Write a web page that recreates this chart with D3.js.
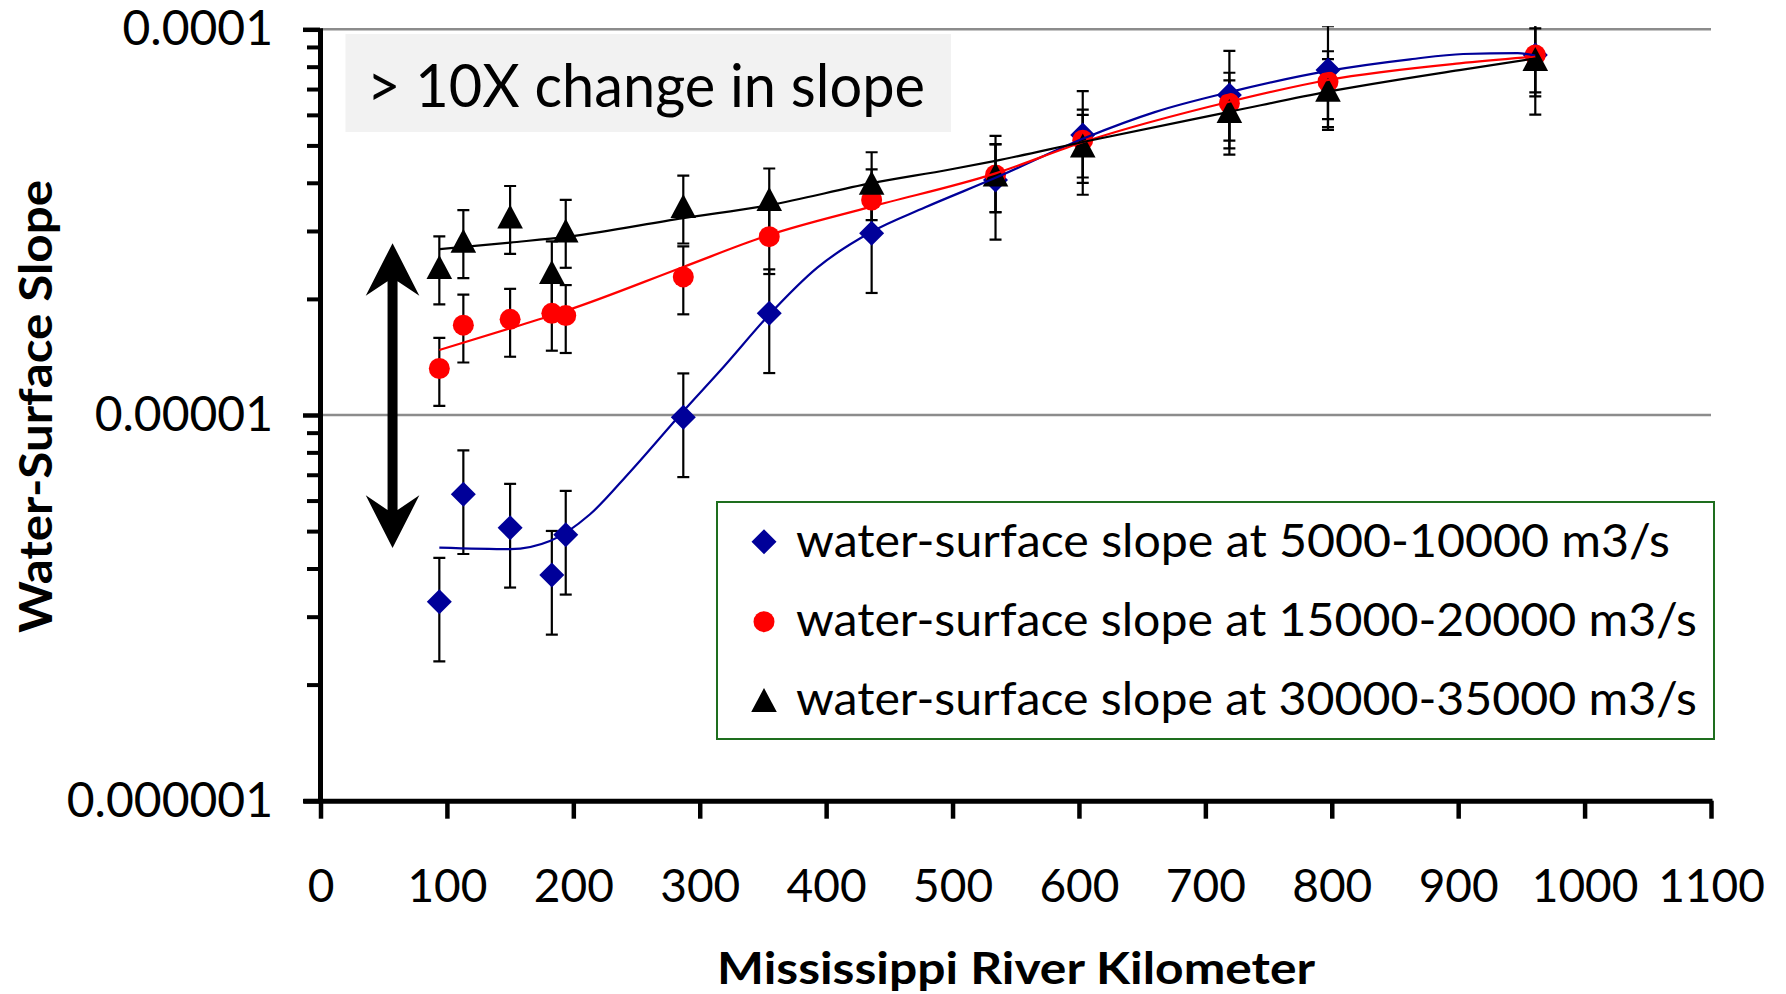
<!DOCTYPE html>
<html>
<head>
<meta charset="utf-8">
<script src="https://cdn.jsdelivr.net/npm/d3@7"></script>
<style>
  body { margin: 0; background: #fff; }
  svg { display: block; }
  text { font-family: Lato, "Open Sans", "DejaVu Sans", sans-serif; fill: #000; }
</style>
</head>
<body>
<svg id="chart" width="1786" height="994"></svg>
<script>
// ---- data ----------------------------------------------------------------
const riverKm = [94, 113, 150, 183, 194, 287, 355, 436, 534, 603, 719, 797, 961];

const slopeLow  = [3.28e-6, 6.23e-6, 5.10e-6, 3.85e-6, 4.89e-6, 9.86e-6, 1.835e-5, 2.96e-5, 4.07e-5, 5.32e-5, 6.76e-5, 7.84e-5, 8.58e-5];
const slopeMid  = [1.32e-5, 1.71e-5, 1.77e-5, 1.835e-5, 1.81e-5, 2.28e-5, 2.90e-5, 3.61e-5, 4.19e-5, 5.16e-5, 6.43e-5, 7.31e-5, 8.58e-5];
const slopeHigh = [2.42e-5, 2.83e-5, 3.27e-5, 2.35e-5, 3.01e-5, 3.48e-5, 3.63e-5, 4.00e-5, 4.20e-5, 5.00e-5, 6.14e-5, 6.97e-5, 8.38e-5];

// relative error-bar size of each series
const errLow = 0.30, errMid = 0.20, errHigh = 0.20;

// fitted trend curves (km, slope)
const trendLowKm  = [94, 150, 182, 213, 245, 287, 319, 355, 393, 436, 478, 534, 604, 660, 719, 797, 862, 904, 947, 961];
const trendLowVal = [4.53e-6, 4.49e-6, 4.72e-6, 5.52e-6, 7.13e-6, 1.023e-5, 1.334e-5, 1.82e-5, 2.41e-5, 2.985e-5, 3.45e-5, 4.12e-5, 5.22e-5, 6.10e-5, 6.87e-5, 7.80e-5, 8.36e-5, 8.63e-5, 8.67e-5, 8.55e-5];
const trendMidKm  = [94, 150, 196, 287, 355, 436, 534, 604, 719, 797, 901, 961];
const trendMidVal = [1.474e-5, 1.678e-5, 1.872e-5, 2.42e-5, 2.93e-5, 3.47e-5, 4.23e-5, 5.11e-5, 6.49e-5, 7.39e-5, 8.16e-5, 8.49e-5];
const trendHighKm  = [94, 150, 196, 287, 355, 436, 498, 534, 604, 719, 797, 901, 961];
const trendHighVal = [2.69e-5, 2.80e-5, 2.90e-5, 3.24e-5, 3.50e-5, 3.99e-5, 4.33e-5, 4.56e-5, 5.11e-5, 6.11e-5, 6.89e-5, 7.84e-5, 8.40e-5];

const xTicks = [0, 100, 200, 300, 400, 500, 600, 700, 800, 900, 1000, 1100];
const yTicks = [1e-6, 1e-5, 1e-4];
const yTickLabels = ["0.000001", "0.00001", "0.0001"];
const yMinorTicks = [2e-6, 3e-6, 4e-6, 5e-6, 6e-6, 7e-6, 8e-6, 9e-6, 2e-5, 3e-5, 4e-5, 5e-5, 6e-5, 7e-5, 8e-5, 9e-5];
const yGrid = [1e-5, 1e-4];

const seriesNames = [
  "water-surface slope at 5000-10000 m3/s",
  "water-surface slope at 15000-20000 m3/s",
  "water-surface slope at 30000-35000 m3/s"
];
const xTitle = "Mississippi River Kilometer";
const yTitle = "Water-Surface Slope";
const noteText = "> 10X change in slope";

// double arrow annotation (km, slope at tips)
const arrowKm = 57, arrowTop = 2.79e-5, arrowBottom = 4.52e-6;

// ---- layout ----------------------------------------------------------------
const svg = d3.select("#chart");
const plotL = 320.5, plotR = 1711, plotT = 29.3, plotB = 800.7;

const x = d3.scaleLinear().domain([0, 1100]).range([plotL, plotR]);
const y = d3.scaleLog().domain([1e-6, 1e-4]).range([plotB, plotT]);

const BLUE = "#000099", RED = "#ff0000", BLACK = "#000000";

const series = [
  { name: seriesNames[0], vals: slopeLow,  err: errLow,  color: BLUE,  shape: "diamond",  tk: trendLowKm,  tv: trendLowVal },
  { name: seriesNames[1], vals: slopeMid,  err: errMid,  color: RED,   shape: "circle",   tk: trendMidKm,  tv: trendMidVal },
  { name: seriesNames[2], vals: slopeHigh, err: errHigh, color: BLACK, shape: "triangle", tk: trendHighKm, tv: trendHighVal }
];

svg.append("defs").append("clipPath").attr("id", "plotClip")
  .append("rect").attr("x", plotL - 2).attr("y", plotT - 3)
  .attr("width", plotR - plotL + 4).attr("height", plotB - plotT + 6);

// gridlines
svg.append("g").selectAll("line").data(yGrid).join("line")
  .attr("x1", plotL).attr("x2", plotR)
  .attr("y1", d => y(d)).attr("y2", d => y(d))
  .attr("stroke", "#8c8c8c").attr("stroke-width", 2.5);

// annotation box
svg.append("rect")
  .attr("x", plotL + 25).attr("y", plotT + 4.7)
  .attr("width", 605.5).attr("height", 98)
  .attr("fill", "#f2f2f2");
svg.append("text")
  .attr("x", plotL + 46.5).attr("y", 107)
  .attr("font-size", 60)
  .attr("textLength", 558).attr("lengthAdjust", "spacingAndGlyphs")
  .text(noteText);

// double-headed arrow
(function () {
  const cx = x(arrowKm), yt = y(arrowTop), yb = y(arrowBottom);
  const hw = 5, bw = 26.8, hb = 52.7, hn = 38;
  const pts = [
    [cx, yt], [cx + bw, yt + hb], [cx + hw, yt + hn],
    [cx + hw, yb - hn], [cx + bw, yb - hb], [cx, yb],
    [cx - bw, yb - hb], [cx - hw, yb - hn],
    [cx - hw, yt + hn], [cx - bw, yt + hb]
  ];
  svg.append("path").attr("d", "M" + pts.map(p => p.join(",")).join("L") + "Z").attr("fill", "#000");
})();

// axes
const yAxisMajor = d3.axisLeft(y).tickValues(yTicks).tickSize(17).tickSizeOuter(0).tickPadding(30)
  .tickFormat((d, i) => yTickLabels[i]);
const gy = svg.append("g").attr("transform", `translate(${plotL - 0.5},0)`).call(yAxisMajor);
gy.select(".domain").attr("stroke", "#000").attr("stroke-width", 5)
  .attr("d", `M0.5,${plotT - 1}V${plotB + 2.5}`);
gy.selectAll(".tick line").attr("stroke", "#000").attr("stroke-width", 4.5);
gy.selectAll(".tick text").attr("font-size", 48).attr("font-family", "Lato, 'Open Sans', sans-serif").attr("fill", "#000");

const yAxisMinor = d3.axisLeft(y).tickValues(yMinorTicks).tickSize(13).tickSizeOuter(0).tickFormat("");
const gym = svg.append("g").attr("transform", `translate(${plotL - 0.5},0)`).call(yAxisMinor);
gym.select(".domain").remove();
gym.selectAll(".tick line").attr("stroke", "#000").attr("stroke-width", 4);

const xAxis = d3.axisBottom(x).tickValues(xTicks).tickSize(18).tickSizeOuter(0).tickFormat(d3.format("d"));
const gx = svg.append("g").attr("transform", `translate(0,${plotB})`).call(xAxis);
gx.select(".domain").attr("stroke", "#000").attr("stroke-width", 5)
  .attr("d", `M${plotL - 17},0.5H${plotR + 1.5}`);
gx.selectAll(".tick line").attr("stroke", "#000").attr("stroke-width", 4.5);
gx.selectAll(".tick text").attr("font-size", 46).attr("font-family", "Lato, 'Open Sans', sans-serif")
  .attr("fill", "#000").attr("y", 101).attr("dy", 0);

// axis titles
svg.append("text")
  .attr("x", 1016).attr("y", 984).attr("text-anchor", "middle")
  .attr("font-size", 44).attr("font-weight", "bold")
  .attr("textLength", 598).attr("lengthAdjust", "spacingAndGlyphs")
  .text(xTitle);
svg.append("text")
  .attr("transform", "translate(51.5,406.5) rotate(-90)")
  .attr("text-anchor", "middle")
  .attr("font-size", 46).attr("font-weight", "bold")
  .attr("textLength", 453).attr("lengthAdjust", "spacingAndGlyphs")
  .text(yTitle);

// marker shapes
function markerPath(shape) {
  if (shape === "diamond") return "M0,-12.5L12.5,0L0,12.5L-12.5,0Z";
  if (shape === "triangle") return "M0,-12L12.8,12L-12.8,12Z";
  return d3.arc()({ innerRadius: 0, outerRadius: 10.5, startAngle: 0, endAngle: 2 * Math.PI });
}

const plot = svg.append("g").attr("clip-path", "url(#plotClip)");

// error bars
series.forEach(s => {
  const g = plot.append("g");
  s.vals.forEach((v, i) => {
    const hi = y(v * (1 + s.err)), lo = y(v * (1 - s.err)), cx = x(riverKm[i]);
    g.append("line").attr("x1", cx).attr("x2", cx).attr("y1", hi).attr("y2", lo)
      .attr("stroke", "#000").attr("stroke-width", 2.2);
    [hi, lo].forEach(yy => g.append("line")
      .attr("x1", cx - 6).attr("x2", cx + 6).attr("y1", yy).attr("y2", yy)
      .attr("stroke", "#000").attr("stroke-width", 2.2));
  });
});

// markers
series.forEach(s => {
  plot.append("g").selectAll("path").data(s.vals).join("path")
    .attr("transform", (d, i) => `translate(${x(riverKm[i])},${y(d)})`)
    .attr("d", markerPath(s.shape))
    .attr("fill", s.color);
});

// trend curves
const trendLine = d3.line().x(d => x(d[0])).y(d => y(d[1])).curve(d3.curveMonotoneX);
series.forEach(s => {
  plot.append("path")
    .attr("d", trendLine(s.tk.map((k, i) => [k, s.tv[i]])))
    .attr("fill", "none").attr("stroke", s.color).attr("stroke-width", 2.2);
});

// legend
const lg = svg.append("g");
lg.append("rect").attr("x", 717).attr("y", 502).attr("width", 997).attr("height", 237)
  .attr("fill", "#fff").attr("stroke", "#1e6e1e").attr("stroke-width", 2);
const rowMarkY = [541.7, 621.7, 700];
const rowTextY = [556.7, 636, 715];
const rowTextW = [874, 901, 901];
series.forEach((s, i) => {
  lg.append("path").attr("transform", `translate(764,${rowMarkY[i]})`)
    .attr("d", markerPath(s.shape)).attr("fill", s.color);
  lg.append("text").attr("x", 796).attr("y", rowTextY[i])
    .attr("font-size", 46)
    .attr("textLength", rowTextW[i]).attr("lengthAdjust", "spacingAndGlyphs")
    .text(s.name);
});
</script>
</body>
</html>
